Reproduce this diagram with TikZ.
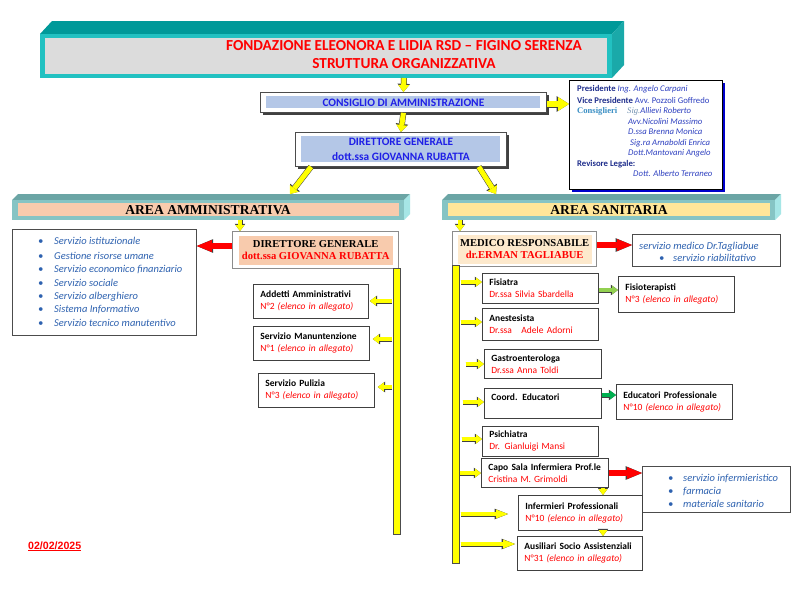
\documentclass[tikz,border=0pt]{standalone}
\usepackage{fontspec}
\setmainfont{Carlito}
\newfontfamily\serifont{Liberation Serif}
\newfontfamily\arialfont{Liberation Sans}
\usetikzlibrary{arrows.meta,shadows}
\definecolor{ttop}{HTML}{009999}
\definecolor{tborder}{HTML}{22C1C1}
\definecolor{tside}{HTML}{1AA9A9}
\definecolor{tgray}{HTML}{DCDCDC}
\definecolor{ared}{HTML}{FF0000}
\definecolor{cblue}{HTML}{1F1FE6}
\definecolor{lblue}{HTML}{B4C7E7}
\definecolor{pnavy}{HTML}{1F2E8C}
\definecolor{pblue}{HTML}{2E40C0}
\definecolor{cons}{HTML}{3A8FC4}
\definecolor{sigc}{HTML}{6F8FAF}
\definecolor{atop}{HTML}{6BA5A5}
\definecolor{afront}{HTML}{86C4C4}
\definecolor{aside}{HTML}{A6E6E6}
\definecolor{salmon}{HTML}{F8CBAD}
\definecolor{sanfill}{HTML}{FFE699}
\definecolor{peach}{HTML}{FDE9CC}
\definecolor{lstblue}{HTML}{2E62B0}
\definecolor{ayellow}{HTML}{FFFF00}
\definecolor{lgreen}{HTML}{92D050}
\definecolor{dgreen}{HTML}{00B050}
\definecolor{pshadow}{HTML}{0000CC}
\newcommand\fTitle{\fontsize{15.3}{18}\selectfont\bfseries}
\newcommand\fCDA{\fontsize{11.4}{13}\selectfont\bfseries}
\newcommand\fDG{\fontsize{11.3}{15}\selectfont\bfseries}
\newcommand\fPres{\fontsize{8.7}{10}\selectfont}
\newcommand\fArea{\serifont\fontsize{13.6}{15}\selectfont\bfseries}
\newcommand\fAD{\serifont\fontsize{10.6}{12}\selectfont\bfseries}
\newcommand\fList{\fontsize{10.5}{12}\selectfont\itshape}
\newcommand\fStaff{\fontsize{9.5}{12}\selectfont}
\newcommand\fDate{\arialfont\fontsize{10.6}{12}\selectfont\bfseries}
\newcommand\blt[1]{\makebox[#1][l]{\textbullet}}
\begin{document}
\begin{tikzpicture}[x=1pt,y=-1pt,
  box/.style={draw=black!70, line width=0.8pt, fill=white, inner sep=0pt},
  gbox/.style={draw=black!45, line width=1.3pt, fill=white, inner sep=0pt},
  dshadow/.style={drop shadow={shadow xshift=3pt, shadow yshift=-3pt, fill=black!75, opacity=1}},
  bshadow/.style={drop shadow={shadow xshift=3pt, shadow yshift=-3pt, fill=pshadow, opacity=1}},
  inset/.style n args={3}{path picture={\fill[#1] ([xshift=#2,yshift=-#3]path picture bounding box.north west) rectangle ([xshift=-#2,yshift=#3]path picture bounding box.south east);}},
  staff/.style={draw=black!75, line width=0.8pt, fill=white, inner xsep=7pt, inner ysep=0pt, align=left, anchor=north west, font=\fStaff},
  ybar/.style={draw=black!70, line width=0.6pt, fill=ayellow, inner sep=0pt, anchor=north west},
  ptext/.style={anchor=base west, inner sep=0pt, font=\fPres},
  litem/.style={anchor=base west, inner sep=0pt, font=\fList, text=lstblue},
  yarrs/.style={line width=4pt, draw=ayellow, -{Triangle[length=6pt,width=9pt,line width=0pt]}, preaction={draw=black!75, line width=5pt, -{Triangle[length=7.2pt,width=10.6pt,line width=0pt]}}},
  yarrl/.style={line width=4pt, draw=ayellow, -{Triangle[length=12pt,width=9pt,line width=0pt]}, preaction={draw=black!75, line width=5pt, -{Triangle[length=13.4pt,width=10.6pt,line width=0pt]}}},
  yarrm/.style={line width=5pt, draw=ayellow, -{Triangle[length=7pt,width=11pt,line width=0pt]}, preaction={draw=black!75, line width=6pt, -{Triangle[length=8.2pt,width=12.6pt,line width=0pt]}}},
  yarrb/.style={line width=6pt, draw=ayellow, -{Triangle[length=11pt,width=14pt,line width=0pt]}, preaction={draw=black!75, line width=7pt, -{Triangle[length=12.4pt,width=15.8pt,line width=0pt]}}},
  rarr/.style={line width=5.5pt, draw=ared, -{Triangle[length=15pt,width=12pt,line width=0pt]}, preaction={draw=black!75, line width=6.5pt, -{Triangle[length=16.4pt,width=13.8pt,line width=0pt]}}},
  garr/.style n args={1}{line width=4pt, draw=#1, -{Triangle[length=6pt,width=9pt,line width=0pt]}, preaction={draw=black!75, line width=5pt, -{Triangle[length=7.2pt,width=10.6pt,line width=0pt]}}}
]
\useasboundingbox (0,0) rectangle (800,600);
\fill[white] (0,0) rectangle (800,600);

% ---------- title banner ----------
\fill[ttop] (40,34) -- (52,21) -- (624,21) -- (612,34) -- cycle;
\fill[tside] (612,34) -- (624,21) -- (624,65) -- (612,78) -- cycle;
\fill[tborder] (40,34) rectangle (612,78);
\fill[tgray] (45,38) rectangle (607,74);
\node[font=\fTitle, text=ared, align=center, inner sep=0pt] (title) at (404,55) {FONDAZIONE ELEONORA E LIDIA RSD – FIGINO SERENZA\\STRUTTURA ORGANIZZATIVA};
\coordinate (tb) at (404,78);

% ---------- top boxes ----------
\node[box, dshadow, minimum width=286pt, minimum height=20pt, anchor=north west, inset={lblue}{6pt}{4pt}, text=cblue, font=\fCDA] (cda) at (260,92) {CONSIGLIO DI AMMINISTRAZIONE};
\node[box, dshadow, minimum width=211pt, minimum height=34pt, anchor=north west, inset={lblue}{6pt}{4pt}, text=cblue, font=\fDG, align=center] (dg) at (295,132) {DIRETTORE GENERALE\\dott.ssa GIOVANNA RUBATTA};

\node[draw=black, line width=0.6pt, fill=white, bshadow, minimum width=153pt, minimum height=109pt, anchor=north west] (pres) at (569,80) {};
\node[ptext] (p1) at (577,91.5) {\textcolor{pnavy}{\bfseries Presidente} \textcolor{pblue}{\itshape Ing. Angelo Carpani}};
\node[ptext] (p2) at (577,103) {\textcolor{pnavy}{\bfseries Vice Presidente} \textcolor{pblue}{Avv. Pozzoli Goffredo}};
\node[ptext] (p3) at (577,113.5) {\textcolor{cons}{\serifont\bfseries\fontsize{8.6}{10}\selectfont Consiglieri}};
\node[ptext] (p4) at (627,113.5) {\textcolor{sigc}{\serifont\itshape\fontsize{8.6}{10}\selectfont Sig.}\textcolor{pblue}{\itshape Allievi Roberto}};
\node[ptext] (p5) at (628,124) {\textcolor{pblue}{\itshape Avv.Nicolini Massimo}};
\node[ptext] (p6) at (628,134.5) {\textcolor{pblue}{\itshape D.ssa Brenna Monica}};
\node[ptext] (p7) at (630,145) {\textcolor{pblue}{\itshape Sig.ra Arnaboldi Enrica}};
\node[ptext] (p8) at (628,155.5) {\textcolor{pblue}{\itshape Dott.Mantovani Angelo}};
\node[ptext] (p9) at (577,166) {\textcolor{pnavy}{\bfseries Revisore Legale:}};
\node[ptext] (p10) at (633,176.5) {\textcolor{pblue}{\itshape Dott. Alberto Terraneo}};

% ---------- area banners ----------
\fill[atop] (12,200) -- (18,194) -- (410,194) -- (404,200) -- cycle;
\fill[afront] (12,200) rectangle (404,220);
\fill[aside] (404,200) -- (410,194) -- (410,214) -- (404,220) -- cycle;
\fill[salmon] (18,203) rectangle (399,216);
\node[font=\fArea, inner sep=0pt] (aarea) at (208,210) {AREA AMMINISTRATIVA};

\fill[atop] (442,200) -- (448,194) -- (781,194) -- (775,200) -- cycle;
\fill[afront] (442,200) rectangle (775,220);
\fill[aside] (775,200) -- (781,194) -- (781,214) -- (775,220) -- cycle;
\fill[sanfill] (448,203) rectangle (770,216);
\node[font=\fArea, inner sep=0pt] (sarea) at (609,210) {AREA SANITARIA};

\coordinate (aatop) at (290,194);
\coordinate (satop) at (496,194);
\coordinate (aabot) at (240,220);
\coordinate (sabot) at (460,220);

% ---------- area amministrativa ----------
\node[gbox, minimum width=166pt, minimum height=37pt, anchor=north west, inset={salmon}{6pt}{4pt}, font=\fAD, align=center] (adg) at (232,231) {DIRETTORE GENERALE\\\textcolor{ared}{dott.ssa GIOVANNA RUBATTA}};

\node[draw=black!70, line width=0.8pt, fill=white, minimum width=184pt, minimum height=106pt, anchor=north west] (listbox) at (12,229) {};
\node[litem] (l1) at (38,244.8) {\blt{16pt}Servizio istituzionale};
\node[litem] (l2) at (38,259.4) {\blt{16pt}Gestione risorse umane};
\node[litem] (l3) at (38,272.8) {\blt{16pt}Servizio economico finanziario};
\node[litem] (l4) at (38,286.1) {\blt{16pt}Servizio sociale};
\node[litem] (l5) at (38,299.4) {\blt{16pt}Servizio alberghiero};
\node[litem] (l6) at (38,312.8) {\blt{16pt}Sistema Informativo};
\node[litem] (l7) at (38,326.1) {\blt{16pt}Servizio tecnico manutentivo};

\node[ybar, minimum width=7pt, minimum height=266pt] (abar) at (393,268) {};

\node[staff, text width=101pt, minimum height=34pt] (addetti) at (253,284) {\textbf{Addetti Amministrativi}\\\textcolor{ared}{N°2 \textit{(elenco in allegato)}}};
\node[staff, text width=102pt, minimum height=34pt] (manut) at (253,326) {\textbf{Servizio Manuntenzione}\\\textcolor{ared}{N°1 \textit{(elenco in allegato)}}};
\node[staff, text width=102pt, minimum height=34pt] (pulizia) at (258,373) {\textbf{Servizio Pulizia}\\\textcolor{ared}{N°3 \textit{(elenco in allegato)}}};

% ---------- area sanitaria ----------
\node[gbox, minimum width=144pt, minimum height=35pt, anchor=north west, inset={peach}{5pt}{3pt}, font=\fAD, align=center] (med) at (452,231) {MEDICO RESPONSABILE\\\textcolor{ared}{dr.ERMAN TAGLIABUE}};

\node[draw=black!70, line width=0.8pt, fill=white, minimum width=148pt, minimum height=32pt, anchor=north west] (smed) at (632,234) {};
\node[litem] (m1) at (639,249) {servizio medico Dr.Tagliabue};
\node[litem] (m2) at (659,261) {\blt{14pt}servizio riabilitativo};

\node[ybar, minimum width=7pt, minimum height=298pt] (sbar) at (452,265) {};

\node[staff, text width=102pt, minimum height=30pt] (fis) at (482,273) {\textbf{Fisiatra}\\\textcolor{ared}{Dr.ssa Silvia Sbardella}};
\node[staff, text width=102pt, minimum height=36pt] (fisio) at (618,276) {\textbf{Fisioterapisti}\\\textcolor{ared}{N°3 \textit{(elenco in allegato)}}};
\node[staff, text width=102pt, minimum height=32pt] (anest) at (482,308) {\textbf{Anestesista}\\\textcolor{ared}{Dr.ssa\ \ \ Adele Adorni}};
\node[staff, text width=103pt, minimum height=29pt] (gastro) at (484,349) {\textbf{Gastroenterologa}\\\textcolor{ared}{Dr.ssa Anna Toldi}};
\node[staff, text width=103pt, minimum height=30pt] (coord) at (484,388) {\textbf{Coord. Educatori}\\\mbox{}};
\node[staff, text width=102pt, minimum height=35pt] (educ) at (616,384) {\textbf{Educatori Professionale}\\\textcolor{ared}{N°10 \textit{(elenco in allegato)}}};
\node[staff, text width=102pt, minimum height=30pt] (psich) at (482,426) {\textbf{Psichiatra}\\\textcolor{ared}{Dr. Gianluigi Mansi}};
\node[staff, text width=113pt, minimum height=29pt] (capo) at (481,458) {\textbf{Capo Sala Infermiera Prof.le}\\\textcolor{ared}{Cristina M. Grimoldi}};

\node[draw=black!70, line width=0.8pt, fill=white, minimum width=148pt, minimum height=46pt, anchor=north west] (sinf) at (642,466) {};
\node[litem] (n1) at (668,481) {\blt{15pt}servizio infermieristico};
\node[litem] (n2) at (668,494) {\blt{15pt}farmacia};
\node[litem] (n3) at (668,507) {\blt{15pt}materiale sanitario};

\node[staff, text width=110pt, minimum height=35pt] (inf) at (518,495) {\textbf{Infermieri Professionali}\\\textcolor{ared}{N°10 \textit{(elenco in allegato)}}};
\node[staff, text width=111pt, minimum height=34pt] (aus) at (517,536) {\textbf{Ausiliari Socio Assistenziali}\\\textcolor{ared}{N°31 \textit{(elenco in allegato)}}};

% ---------- date ----------
\node[anchor=base west, inner sep=0pt, font=\fDate, text=ared] (date) at (28,549) {\underline{02/02/2025}};

% ---------- connectors ----------
\draw[yarrm] (tb) -- (cda.north);
\draw[yarrm] (cda.south) -- (dg.north);
\draw[yarrb] (cda.east |- 0,104) -- (pres.west |- 0,104);
\draw[yarrm] ([xshift=16pt]dg.south west) -- (aatop);
\draw[yarrm] ([xshift=-28pt]dg.south east) -- (satop);
\draw[yarrs] (aabot) -- (aabot |- adg.north);
\draw[yarrs] (sabot) -- (sabot |- med.north);
\draw[rarr] (adg.west |- 0,246) -- (listbox.east |- 0,246);
\draw[rarr] (med.east |- 0,245) -- (smed.west |- 0,245);
\draw[rarr] (capo.east |- 0,473) -- (sinf.west |- 0,473);

\draw[yarrs] ([xshift=-1pt]abar.west |- 0,301) -- ([xshift=1pt]addetti.east |- 0,301);
\draw[yarrs] ([xshift=-1pt]abar.west |- 0,339) -- ([xshift=3pt]manut.east |- 0,339);
\draw[yarrs] ([xshift=-1pt]abar.west |- 0,387) -- ([xshift=3pt]pulizia.east |- 0,387);

\draw[yarrs] ([xshift=1pt]sbar.east |- 0,282) -- (fis.west |- 0,282);
\draw[yarrs] ([xshift=1pt]sbar.east |- 0,322) -- (anest.west |- 0,322);
\draw[yarrs] ([xshift=6pt]sbar.east |- 0,364) -- (gastro.west |- 0,364);
\draw[yarrs] ([xshift=3pt]sbar.east |- 0,402) -- (coord.west |- 0,402);
\draw[yarrs] ([xshift=2pt]sbar.east |- 0,439) -- (psich.west |- 0,439);
\draw[yarrs] (sbar.east |- 0,473) -- (capo.west |- 0,473);
\draw[yarrl] ([xshift=1pt]sbar.east |- 0,514) -- ([xshift=-10pt]inf.west |- 0,514);
\draw[yarrl] ([xshift=1pt]sbar.east |- 0,544) -- ([xshift=-2pt]aus.west |- 0,544);

\draw[garr=lgreen] (fis.east |- 0,290) -- (fisio.west |- 0,290);
\draw[garr=dgreen] (coord.east |- 0,395) -- (educ.west |- 0,395);

\coordinate (dx) at (603,0);
\draw[yarrs] (dx |- capo.south) -- (dx |- inf.north);
\draw[yarrs] (dx |- inf.south) -- (dx |- aus.north);
\end{tikzpicture}
\end{document}
